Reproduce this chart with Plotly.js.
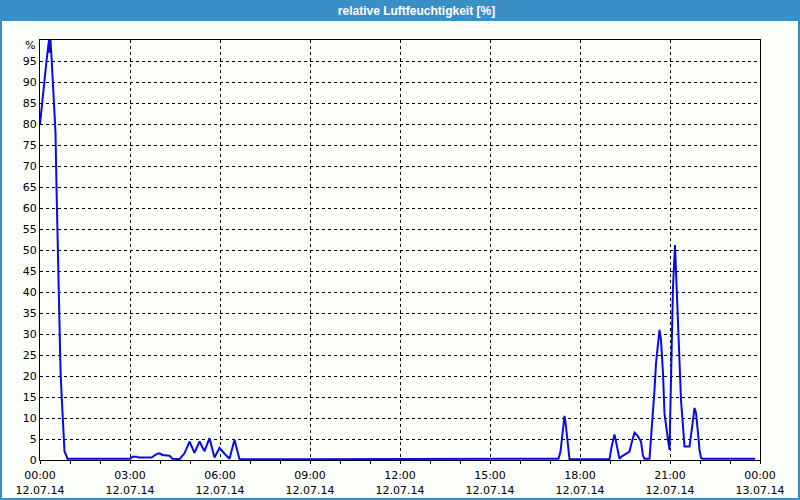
<!DOCTYPE html>
<html>
<head>
<meta charset="utf-8">
<script src="https://cdn.plot.ly/plotly-3.0.1.min.js"></script>
<style>
  html, body { margin: 0; padding: 0; background: #fbfef9; }
  #chart { width: 800px; height: 500px; }
</style>
</head>
<body>
<div id="chart"></div>
<script>
// Time of day (12.07.14) and relative humidity [%]
const times = [
  "00:00","00:04","00:08","00:13","00:16","00:18","00:19","00:21","00:23","00:25",
  "00:28","00:31","00:33","00:35","00:37","00:39","00:41","00:43","00:45","00:47",
  "00:49","00:51","00:53","00:55","01:30","02:15",
  "03:01","03:05","03:13","03:17","03:43","03:53","03:59","04:05","04:13","04:19",
  "04:25","04:39","04:49","04:59","05:09","05:19","05:29","05:39","05:49","05:59",
  "06:09","06:19","06:29","06:39","09:00","12:00","15:00","17:15","17:17","17:21",
  "17:25","17:29","17:31","17:35","17:39","18:59","19:03","19:09","19:13","19:19",
  "19:23","19:31","19:39","19:43","19:49","19:55","20:02","20:06","20:09","20:19",
  "20:22","20:26","20:29","20:32","20:36","20:39","20:42","20:46","20:49","20:52",
  "20:56","20:59","21:02","21:06","21:10","21:12","21:16","21:19","21:22","21:26",
  "21:29","21:39","21:42","21:46","21:49","21:52","21:56","21:59","22:02","22:05",
  "23:50"
];
const humidity = [
  80, 85, 90, 95, 98, 100, 97, 100, 96, 92,
  86, 78, 65, 53, 42, 32, 21.5, 16, 10, 7,
  2, 1.5, 1, 0.3, 0.3, 0.3,
  0.3, 0.8, 0.8, 0.6, 0.6, 1.4, 1.6, 1.2, 1.0, 1.0,
  0.3, 0.2, 1.6, 4.4, 1.7, 4.4, 2.1, 5.2, 0.6, 2.9,
  1.5, 0.3, 4.8, 0.2, 0.2, 0.2, 0.2, 0.2, 0.3, 2,
  6.5, 10.5, 9, 4, 0.2, 0.2, 3, 6.1, 3.5, 0.3,
  0.8, 1.3, 2.0, 4, 6.5, 5.8, 4.4, 1, 0.3, 0.3,
  4.8, 10.3, 16.7, 23, 27.8, 31, 28.6, 20.6, 11.1, 8,
  4.8, 2.4, 21.4, 41.3, 51.2, 44.4, 33.3, 23.8, 14.3, 8,
  3.2, 3.2, 5.5, 9.5, 12.4, 11.2, 6.4, 2.4, 0.5, 0.3,
  0.3
];

const xTickVals = ["2014-07-12 00:00","2014-07-12 03:00","2014-07-12 06:00","2014-07-12 09:00",
  "2014-07-12 12:00","2014-07-12 15:00","2014-07-12 18:00","2014-07-12 21:00","2014-07-13 00:00"];
const xTickText = ["00:00<br>12.07.14","03:00<br>12.07.14","06:00<br>12.07.14","09:00<br>12.07.14",
  "12:00<br>12.07.14","15:00<br>12.07.14","18:00<br>12.07.14","21:00<br>12.07.14","00:00<br>13.07.14"];
const yTickVals = [0,5,10,15,20,25,30,35,40,45,50,55,60,65,70,75,80,85,90,95,100];
const yTickText = ["0","5","10","15","20","25","30","35","40","45","50","55","60","65","70","75","80","85","90","95",""];
const yUnitLabel = "%";

const chartTitle = "relative Luftfeuchtigkeit [%]";

const xs = times.map(t => "2014-07-12 " + t);

// plot area in pixels: x 40..760, y 40..460
const L = 40, R = 40, T = 40, B = 40, W = 800, H = 500;
const pw = W - L - R, ph = H - T - B;
const px = v => (v - L) / pw;
const py = v => (H - B - v) / ph;

const trace = {
  x: xs, y: humidity, type: 'scatter', mode: 'lines',
  line: { color: '#0a0ae6', width: 2 },
  cliponaxis: true, hoverinfo: 'skip'
};

const font = { family: 'DejaVu Sans, Verdana, sans-serif', size: 11, color: '#000' };

const layout = {
  width: W, height: H,
  margin: { l: L, r: R, t: T, b: B, pad: 0 },
  paper_bgcolor: '#fbfef9',
  plot_bgcolor: '#fbfef9',
  showlegend: false,
  font: font,
  title: {
    text: chartTitle,
    font: { family: 'Liberation Sans, Arial, sans-serif', size: 12, color: '#ffffff', weight: 'bold' },
    x: 416.5 / W, xanchor: 'center', xref: 'container',
    y: 1 - 10.5 / H, yanchor: 'middle', yref: 'container'
  },
  xaxis: {
    type: 'date',
    range: ["2014-07-12 00:00", "2014-07-13 00:00"],
    tickmode: 'array', tickvals: xTickVals, ticktext: xTickText,
    ticks: 'outside', ticklen: 3, tickcolor: '#000', tickwidth: 1,
    showgrid: true, gridcolor: '#000', gridwidth: 1, griddash: '3px,3px',
    minor: { tickmode: 'linear', tick0: "2014-07-12 00:00", dtick: 3600000,
             ticks: 'outside', ticklen: 3, tickcolor: '#000', showgrid: false },
    showline: true, linecolor: '#000', linewidth: 1, mirror: true,
    zeroline: false, fixedrange: true,
    tickfont: font, ticklabelstandoff: 2
  },
  yaxis: {
    range: [0, 100],
    tickmode: 'array', tickvals: yTickVals, ticktext: yTickText,
    ticks: '', showgrid: true, gridcolor: '#000', gridwidth: 1, griddash: '3px,3px',
    showline: true, linecolor: '#000', linewidth: 1, mirror: true,
    zeroline: false, fixedrange: true,
    tickfont: font, ticklabelstandoff: 0
  },
  annotations: [
    { text: yUnitLabel, xref: 'paper', yref: 'y', x: 0, y: 98.8,
      xanchor: 'right', yanchor: 'middle', xshift: -3, showarrow: false, font: font }
  ],
  shapes: [
    { type: 'rect', xref: 'paper', yref: 'paper', layer: 'below',
      x0: px(0), x1: px(W), y0: py(21), y1: py(0),
      fillcolor: '#3b8fc7', line: { width: 0 } },
    { type: 'rect', xref: 'paper', yref: 'paper', layer: 'above',
      x0: px(1), x1: px(799), y0: py(499), y1: py(1),
      fillcolor: 'rgba(0,0,0,0)', line: { color: '#3b8fc7', width: 2 } }
  ]
};

Plotly.newPlot('chart', [trace], layout, { staticPlot: true, displayModeBar: false });
</script>
</body>
</html>
